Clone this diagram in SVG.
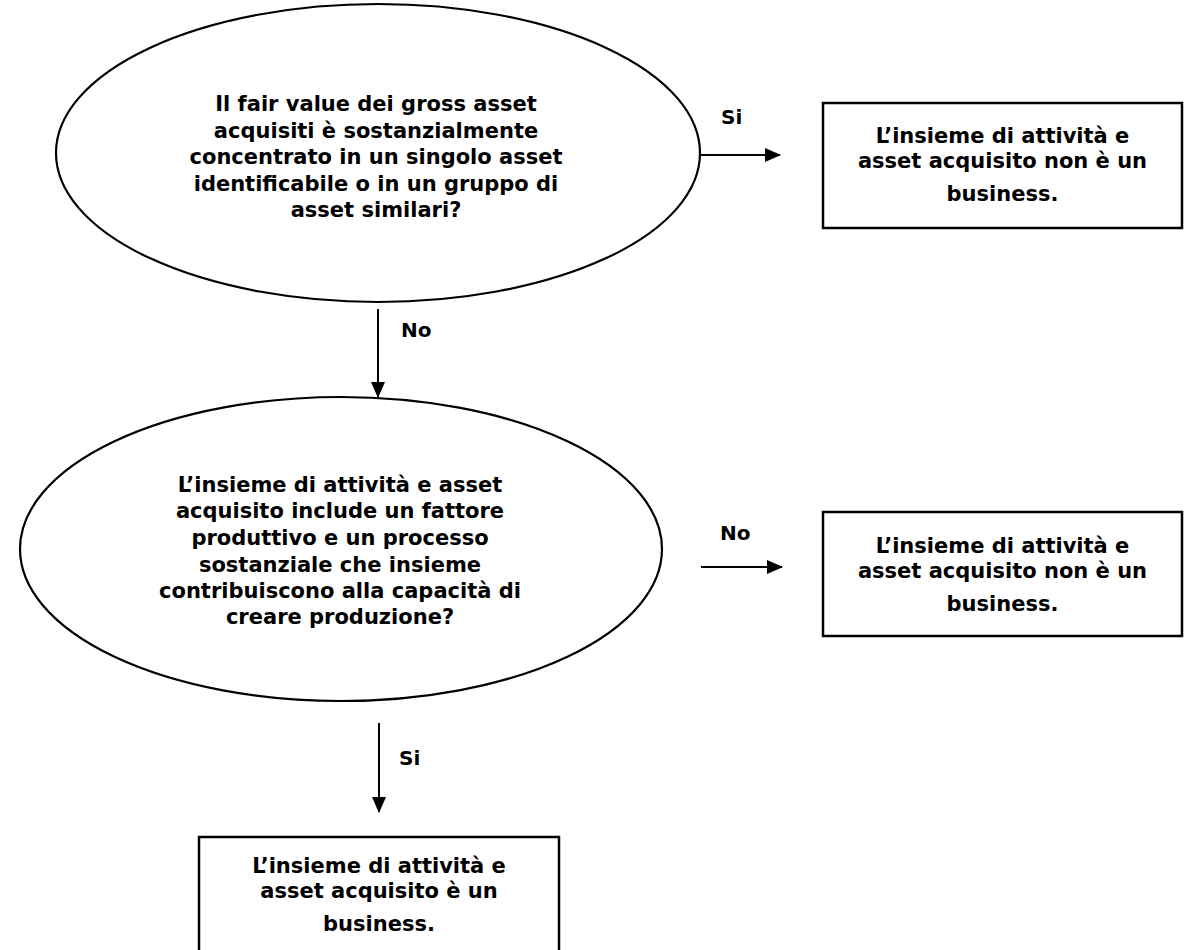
<svg xmlns="http://www.w3.org/2000/svg" width="1186" height="950" viewBox="0 0 1186 950">
<style>
  .shape { fill: #ffffff; stroke: #000000; stroke-width: 2.2; }
  .box { fill: #ffffff; stroke: #000000; stroke-width: 2.5; }
  .t { font-family: "DejaVu Sans", Verdana, sans-serif; font-weight: bold; font-size: 21px; fill: #000000; text-anchor: middle; }
  .lbl { font-family: "DejaVu Sans", Verdana, sans-serif; font-weight: bold; font-size: 20px; fill: #000000; }
  .conn { stroke: #000000; stroke-width: 2; fill: none; marker-end: url(#arr); }
</style>
<defs>
  <marker id="arr" markerWidth="16" markerHeight="14" refX="15" refY="7" orient="auto" markerUnits="userSpaceOnUse">
    <path d="M0,0 L16,7 L0,14 Z" fill="#000000"/>
  </marker>
</defs>
<rect width="1186" height="950" fill="#ffffff"/>

<g id="q1">
  <ellipse class="shape" cx="378" cy="153" rx="322" ry="149"/>
  <text class="t" x="376" y="111">Il fair value dei gross asset</text>
  <text class="t" x="376" y="138">acquisiti è sostanzialmente</text>
  <text class="t" x="376" y="164">concentrato in un singolo asset</text>
  <text class="t" x="376" y="191">identificabile o in un gruppo di</text>
  <text class="t" x="376" y="217">asset similari?</text>
</g>

<g id="r1">
  <rect class="box" x="823" y="103" width="359" height="125"/>
  <text class="t" x="1002.5" y="143">L’insieme di attività e</text>
  <text class="t" x="1002.5" y="168">asset acquisito non è un</text>
  <text class="t" x="1002.5" y="201">business.</text>
</g>

<g id="q2">
  <ellipse class="shape" cx="341" cy="549" rx="321" ry="152"/>
  <text class="t" x="340" y="492">L’insieme di attività e asset</text>
  <text class="t" x="340" y="518">acquisito include un fattore</text>
  <text class="t" x="340" y="545">produttivo e un processo</text>
  <text class="t" x="340" y="572">sostanziale che insieme</text>
  <text class="t" x="340" y="598">contribuiscono alla capacità di</text>
  <text class="t" x="340" y="624">creare produzione?</text>
</g>

<g id="r2">
  <rect class="box" x="823" y="512" width="359" height="124"/>
  <text class="t" x="1002.5" y="553">L’insieme di attività e</text>
  <text class="t" x="1002.5" y="578">asset acquisito non è un</text>
  <text class="t" x="1002.5" y="611">business.</text>
</g>

<g id="r3">
  <rect class="box" x="199" y="837" width="360" height="125"/>
  <text class="t" x="379" y="873">L’insieme di attività e</text>
  <text class="t" x="379" y="898">asset acquisito è un</text>
  <text class="t" x="379" y="931">business.</text>
</g>

<g id="connectors">
  <line class="conn" x1="700" y1="155" x2="780" y2="155"/>
  <text class="lbl" x="721" y="124">Si</text>
  <line class="conn" x1="378" y1="309" x2="378" y2="397"/>
  <text class="lbl" x="401" y="337">No</text>
  <line class="conn" x1="701" y1="567" x2="782" y2="567"/>
  <text class="lbl" x="720" y="540">No</text>
  <line class="conn" x1="379" y1="723" x2="379" y2="812"/>
  <text class="lbl" x="399" y="765">Si</text>
</g>
</svg>
